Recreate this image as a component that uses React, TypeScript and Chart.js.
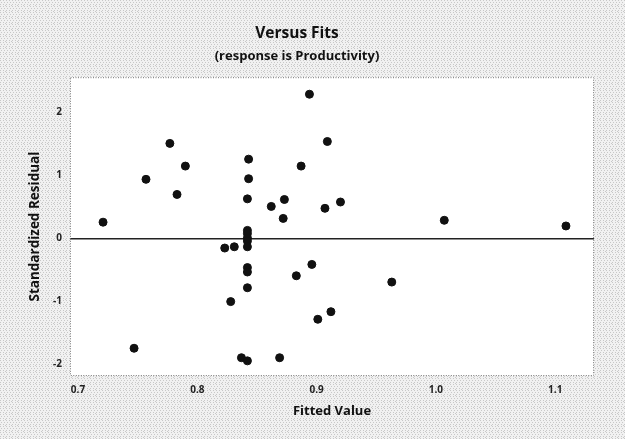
import React, { useEffect, useRef } from "react";
import { Chart, registerables } from "chart.js";

Chart.register(...registerables);

const fittedValues = [
  0.721, 0.757, 0.777, 0.783, 0.790, 0.843, 0.843, 0.842, 0.842, 0.842,
  0.842, 0.842, 0.842, 0.823, 0.831, 0.842, 0.842, 0.842, 0.828, 0.747,
  0.837, 0.842, 0.869, 0.862, 0.873, 0.872, 0.887, 0.894, 0.909, 0.907,
  0.920, 0.883, 0.896, 0.901, 0.912, 0.963, 1.007, 1.109,
];
const residuals = [
  0.26, 0.94, 1.51, 0.70, 1.15, 1.26, 0.95, 0.63, 0.13, 0.08,
  0.01, -0.04, -0.13, -0.15, -0.13, -0.46, -0.53, -0.78, -1.00, -1.74,
  -1.89, -1.94, -1.89, 0.51, 0.62, 0.32, 1.15, 2.29, 1.54, 0.48,
  0.58, -0.59, -0.41, -1.28, -1.16, -0.69, 0.29, 0.20,
];
const xTickValues = [0.7, 0.8, 0.9, 1.0, 1.1];
const xTickLabels = ["0.7", "0.8", "0.9", "1.0", "1.1"];
const yTickValues = [-2, -1, 0, 1, 2];
const yTickLabels = ["-2", "-1", "0", "1", "2"];
const xRange = [0.6933, 1.1325];
const yRange = [-2.18, 2.56];

const FONT = "'Open Sans', 'DejaVu Sans', sans-serif";

function makePattern(ctx: CanvasRenderingContext2D) {
  const c = document.createElement("canvas");
  c.width = 6;
  c.height = 6;
  const p = c.getContext("2d")!;
  p.fillStyle = "#f1f1f1";
  p.fillRect(0, 0, 6, 6);
  p.fillStyle = "#c8c8c8";
  const dots = [[0, 0], [3, 0], [1, 2], [4, 2], [0, 4], [3, 4], [5, 5]];
  dots.forEach(([x, y]) => p.fillRect(x, y, 1, 1));
  return ctx.createPattern(c, "repeat");
}

const bgPlugin = {
  id: "bgPlugin",
  beforeDraw(chart: any) {
    const { ctx, chartArea, width, height } = chart;
    ctx.save();
    const pat = makePattern(ctx);
    ctx.fillStyle = pat || "#ececec";
    ctx.fillRect(0, 0, width, height);
    ctx.fillStyle = "#ffffff";
    ctx.fillRect(chartArea.left, chartArea.top, chartArea.right - chartArea.left, chartArea.bottom - chartArea.top);
    ctx.restore();
  },
  afterDraw(chart: any) {
    const { ctx, chartArea } = chart;
    ctx.save();
    ctx.strokeStyle = "#777777";
    ctx.lineWidth = 1;
    ctx.setLineDash([1, 1.5]);
    ctx.strokeRect(chartArea.left + 0.5, chartArea.top + 0.5, chartArea.right - chartArea.left - 1, chartArea.bottom - chartArea.top - 1);
    ctx.restore();
  },
};

export default function App() {
  const ref = useRef<HTMLCanvasElement | null>(null);

  useEffect(() => {
    document.body.style.margin = "0";
    const canvas = ref.current;
    if (!canvas) return;
    const data = fittedValues.map((x, i) => ({ x, y: residuals[i] }));
    const chart = new Chart(canvas, {
      type: "scatter",
      data: {
        datasets: [
          {
            data,
            backgroundColor: "#111111",
            borderColor: "#111111",
            pointRadius: 4,
            pointHoverRadius: 4,
          },
        ],
      },
      plugins: [bgPlugin],
      options: {
        animation: false,
        responsive: false,
        maintainAspectRatio: false,
        layout: { padding: { left: 0, right: 31, top: 0, bottom: 0 } },
        plugins: {
          legend: { display: false },
          tooltip: { enabled: false },
          title: {
            display: true,
            text: "Versus Fits",
            color: "#111111",
            font: { family: FONT, size: 15.5, weight: "bold", lineHeight: 1.2 },
            padding: { top: 24, bottom: 6 },
          },
          subtitle: {
            display: true,
            text: "(response is Productivity)",
            color: "#111111",
            font: { family: FONT, size: 13, weight: "bold", lineHeight: 1.2 },
            padding: { top: 0, bottom: 13 },
          },
        },
        scales: {
          x: {
            type: "linear",
            min: xRange[0],
            max: xRange[1],
            afterBuildTicks: (scale: any) => {
              scale.ticks = xTickValues.map((v) => ({ value: v }));
            },
            afterFit: (scale: any) => {
              scale.height = 63;
            },
            grid: { display: false, drawTicks: false },
            border: { display: false },
            ticks: {
              padding: 8,
              color: "#222222",
              font: { family: FONT, size: 10, weight: "bold" },
              callback: (v: any) => {
                const i = xTickValues.findIndex((t) => Math.abs(t - Number(v)) < 1e-6);
                return i >= 0 ? xTickLabels[i] : "";
              },
            },
            title: {
              display: true,
              text: "Fitted Value",
              color: "#111111",
              font: { family: FONT, size: 13, weight: "bold", lineHeight: 1.2 },
              padding: { top: 0, bottom: 20 },
            },
          },
          y: {
            type: "linear",
            min: yRange[0],
            max: yRange[1],
            afterBuildTicks: (scale: any) => {
              scale.ticks = yTickValues.map((v) => ({ value: v }));
            },
            afterFit: (scale: any) => {
              scale.width = 70;
            },
            grid: {
              display: true,
              drawTicks: false,
              lineWidth: (c: any) => (c.tick && c.tick.value === 0 ? 1.5 : 0),
              color: (c: any) => (c.tick && c.tick.value === 0 ? "#222222" : "rgba(0,0,0,0)"),
            },
            border: { display: false },
            ticks: {
              padding: 8,
              color: "#222222",
              font: { family: FONT, size: 10, weight: "bold" },
              callback: (v: any) => {
                const i = yTickValues.findIndex((t) => Math.abs(t - Number(v)) < 1e-6);
                return i >= 0 ? yTickLabels[i] : "";
              },
            },
            title: {
              display: true,
              text: "Standardized Residual",
              color: "#111111",
              font: { family: FONT, size: 13.5, weight: "bold", lineHeight: 1.2 },
              padding: { top: 27, bottom: 0 },
            },
          },
        },
      },
    });
    return () => chart.destroy();
  }, []);

  return (
    <div style={{ width: 625, height: 439 }}>
      <canvas ref={ref} width={625} height={439} style={{ display: "block", width: 625, height: 439 }} />
    </div>
  );
}
